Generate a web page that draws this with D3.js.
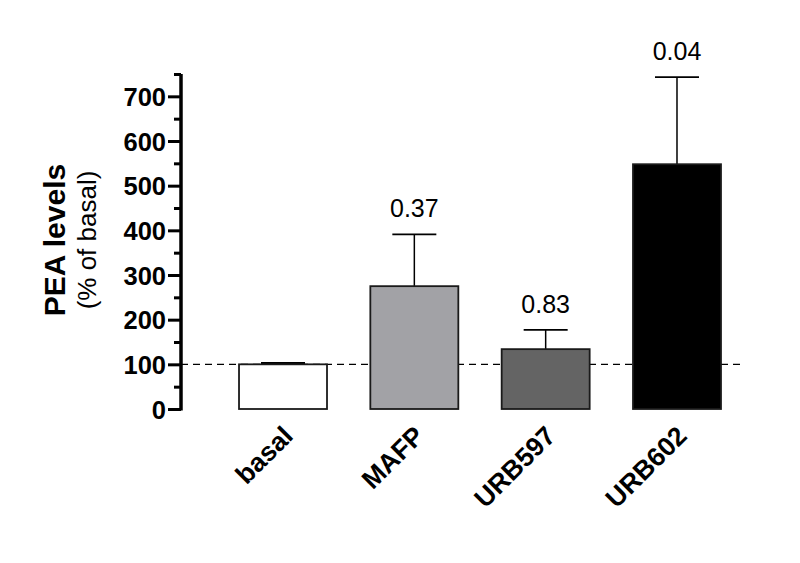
<!DOCTYPE html>
<html>
<head>
<meta charset="utf-8">
<script src="https://cdn.jsdelivr.net/npm/d3@7"></script>
<style>
  body { margin: 0; background: #fff; }
  svg { font-family: Arial, "Liberation Sans", sans-serif; }
</style>
</head>
<body>
<svg id="chart" width="800" height="563"></svg>
<script>
// data
var groups = ["basal", "MAFP", "URB597", "URB602"];
var means = [100, 275, 134, 548];
var errs = [3, 116, 43, 195];
var pvals = ["", "0.37", "0.83", "0.04"];
var fills = ["#ffffff", "#a2a2a6", "#646464", "#000000"];
var yTicks = [0, 100, 200, 300, 400, 500, 600, 700];

var svg = d3.select("#chart");

var x = d3.scaleBand()
  .domain(groups)
  .range([218, 742])
  .paddingInner(0.33)
  .paddingOuter(0.16);

var y = d3.scaleLinear()
  .domain([0, 750])
  .range([409, 74]);

// baseline at 100%
svg.append("line")
  .attr("x1", 181).attr("x2", 742)
  .attr("y1", y(100)).attr("y2", y(100))
  .attr("stroke", "#000").attr("stroke-width", 1.2)
  .attr("stroke-dasharray", "7,5");

// error bars (upper only)
var eb = svg.selectAll(".err").data(groups).enter().append("g");
eb.append("line")
  .attr("x1", function(d) { return x(d) + x.bandwidth()/2; })
  .attr("x2", function(d) { return x(d) + x.bandwidth()/2; })
  .attr("y1", function(d, i) { return y(means[i]); })
  .attr("y2", function(d, i) { return y(means[i] + errs[i]); })
  .attr("stroke", "#000").attr("stroke-width", 1.5);
eb.append("line")
  .attr("x1", function(d) { return x(d) + x.bandwidth()/2 - 22; })
  .attr("x2", function(d) { return x(d) + x.bandwidth()/2 + 22; })
  .attr("y1", function(d, i) { return y(means[i] + errs[i]); })
  .attr("y2", function(d, i) { return y(means[i] + errs[i]); })
  .attr("stroke", "#000").attr("stroke-width", 1.8);

// bars
svg.selectAll(".bar").data(groups).enter().append("rect")
  .attr("x", function(d) { return x(d); })
  .attr("width", x.bandwidth())
  .attr("y", function(d, i) { return y(means[i]); })
  .attr("height", function(d, i) { return y(0) - y(means[i]); })
  .attr("fill", function(d, i) { return fills[i]; })
  .attr("stroke", "#1a1a1a").attr("stroke-width", 1.8);

// p values above error bars
svg.selectAll(".pv").data(groups).enter().append("text")
  .attr("x", function(d) { return x(d) + x.bandwidth()/2; })
  .attr("y", function(d, i) { return y(means[i] + errs[i]) - 17; })
  .attr("text-anchor", "middle")
  .attr("font-size", 25)
  .text(function(d, i) { return pvals[i]; });

// y axis
var yAxis = d3.axisLeft(y)
  .tickValues(d3.range(0, 751, 50))
  .tickSize(0)
  .tickFormat("");
var ay = svg.append("g").attr("transform", "translate(181,0)").call(yAxis);
ay.select(".domain").attr("stroke", "#000").attr("stroke-width", 3.5)
  .attr("d", "M0," + y(750) + "V" + (y(0) + 1.5));
ay.selectAll(".tick line")
  .attr("stroke", "#000").attr("stroke-width", 3)
  .attr("x2", function(d) { return yTicks.indexOf(d) >= 0 ? -13 : -7; });
ay.selectAll(".tick").filter(function(d) { return yTicks.indexOf(d) >= 0; })
  .append("text")
  .attr("x", -15).attr("dy", "0.36em")
  .attr("text-anchor", "end")
  .attr("fill", "#000")
  .attr("font-size", 25.5).attr("font-weight", "bold")
  .attr("font-family", "Arial, 'Liberation Sans', sans-serif")
  .text(function(d) { return d; });

// y title
svg.append("text")
  .attr("transform", "translate(65,240) rotate(-90)")
  .attr("text-anchor", "middle")
  .attr("font-size", 30).attr("font-weight", "bold")
  .text("PEA levels");
svg.append("text")
  .attr("transform", "translate(96,240) rotate(-90)")
  .attr("text-anchor", "middle")
  .attr("font-size", 26)
  .text("(% of basal)");

// category labels
svg.selectAll(".cat").data(groups).enter().append("text")
  .attr("transform", function(d) {
    return "translate(" + (x(d) + x.bandwidth()/2 - 2) + ",424) rotate(-45)";
  })
  .attr("text-anchor", "end")
  .attr("font-size", 26.5).attr("font-weight", "bold")
  .attr("dy", "0.72em")
  .text(function(d) { return d; });
</script>
</body>
</html>
